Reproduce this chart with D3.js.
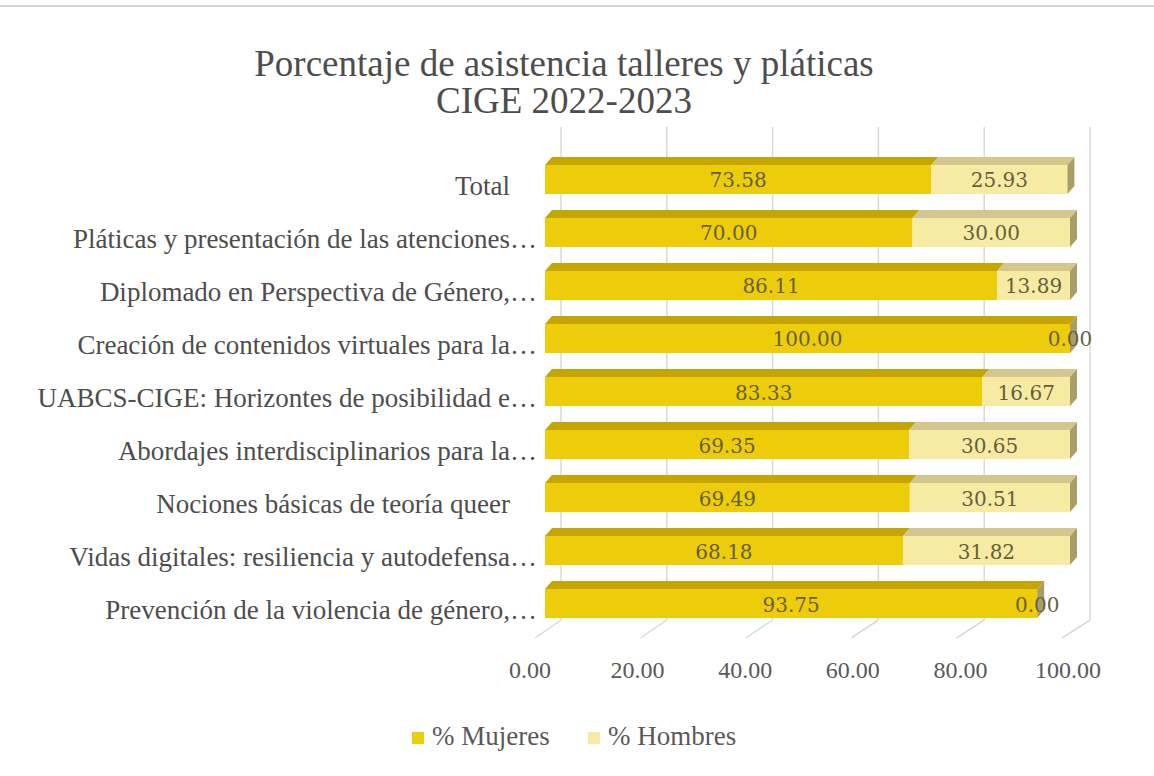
<!DOCTYPE html>
<html>
<head>
<meta charset="utf-8">
<script src="https://cdn.jsdelivr.net/npm/d3@7"></script>
<style>
  html, body { margin: 0; padding: 0; background: #fff; }
  svg { display: block; }
</style>
</head>
<body>
<div id="chart"></div>
<script>
// Datos (de arriba hacia abajo)
const categories = [
  'Total    ',
  'Pláticas y presentación de las atenciones…',
  'Diplomado en Perspectiva de Género,…',
  'Creación de contenidos virtuales para la…',
  'UABCS-CIGE: Horizontes de posibilidad e…',
  'Abordajes interdisciplinarios para la…',
  'Nociones básicas de teoría queer    ',
  'Vidas digitales: resiliencia y autodefensa…',
  'Prevención de la violencia de género,…'
];
const mujeres = [73.58, 70.00, 86.11, 100.00, 83.33, 69.35, 69.49, 68.18, 93.75];
const hombres = [25.93, 30.00, 13.89, 0.00, 16.67, 30.65, 30.51, 31.82, 0.00];
const ticks = [0, 20, 40, 60, 80, 100];
const seriesNames = ['% Mujeres', '% Hombres'];

const width = 1154, height = 776;

const colors = {
  mujeres: { front: '#EDCD0A', top: '#C4A502', side: '#A89A3A' },
  hombres: { front: '#F7EBA4', top: '#D4C78E', side: '#A99E68' }
};
const textColor = '#4d4d4d';

const svg = d3.select('#chart').append('svg')
  .attr('width', width)
  .attr('height', height);

// borde superior
svg.append('line')
  .attr('x1', 0).attr('x2', width)
  .attr('y1', 6).attr('y2', 6)
  .attr('stroke', '#d4d4d4').attr('stroke-width', 2);

// Titulo
const title = svg.append('text')
  .attr('text-anchor', 'middle')
  .style('font-family', '"Liberation Serif", "Times New Roman", serif')
  .style('font-size', '37px')
  .style('fill', textColor);
title.append('tspan').attr('x', 564).attr('y', 76).text('Porcentaje de asistencia talleres y pláticas');
title.append('tspan').attr('x', 564).attr('y', 113).text('CIGE 2022-2023');

// Escalas: frente de la barra, pared del fondo, borde frontal del piso, etiquetas
const x = d3.scaleLinear().domain([0, 100]).range([545, 1070]);
const xWall = d3.scaleLinear().domain([0, 100]).range([561, 1090]);
const xFloor = d3.scaleLinear().domain([0, 100]).range([535, 1062]);
const xLabel = d3.scaleLinear().domain([0, 100]).range([530, 1068]);

const y = d3.scaleBand()
  .domain(categories)
  .range([165, 618])
  .paddingInner(0.453)
  .paddingOuter(0);

const wallTop = 127, floorBack = 620, floorFront = 638;
const depth = { dx: 7, dy: -8 };

// Lineas de cuadricula (pared + piso)
const grid = svg.append('g').attr('class', 'grid');
grid.selectAll('.wall-line')
  .data(ticks)
  .enter().append('line')
  .attr('x1', d => xWall(d)).attr('x2', d => xWall(d))
  .attr('y1', wallTop).attr('y2', floorBack)
  .attr('stroke', '#d9d9d9').attr('stroke-width', 1.5);
grid.selectAll('.floor-line')
  .data(ticks)
  .enter().append('line')
  .attr('x1', d => xFloor(d)).attr('x2', d => xWall(d))
  .attr('y1', floorFront).attr('y2', floorBack)
  .attr('stroke', '#d9d9d9').attr('stroke-width', 1.5);

// Barras 3D apiladas
const rows = categories.map((c, i) => ({
  name: c,
  segs: [
    { key: 'mujeres', start: 0, value: mujeres[i] },
    { key: 'hombres', start: mujeres[i], value: hombres[i] }
  ]
}));

const bars = svg.append('g').attr('class', 'bars');
rows.forEach(r => {
  const y0 = y(r.name), h = y.bandwidth();
  const g = bars.append('g');

  r.segs.forEach(s => {
    const a = x(s.start), b = x(s.start + s.value);
    // cara frontal
    g.append('rect')
      .attr('x', a).attr('y', y0)
      .attr('width', b - a).attr('height', h)
      .attr('fill', colors[s.key].front);
    // cara superior
    g.append('path')
      .attr('d', `M${a},${y0}L${b},${y0}L${b + depth.dx},${y0 + depth.dy}L${a + depth.dx},${y0 + depth.dy}Z`)
      .attr('fill', colors[s.key].top);
  });

  // cara lateral al final de la barra
  const end = x(r.segs[1].start + r.segs[1].value);
  g.append('path')
    .attr('d', `M${end},${y0}L${end + depth.dx},${y0 + depth.dy}L${end + depth.dx},${y0 + h + depth.dy}L${end},${y0 + h}Z`)
    .attr('fill', colors.hombres.side);

  // etiquetas de datos
  r.segs.forEach(s => {
    g.append('text')
      .attr('x', x(s.start + s.value / 2))
      .attr('y', y0 + h / 2 + 8)
      .attr('text-anchor', 'middle')
      .style('font-family', '"DejaVu Serif", "Liberation Serif", serif')
      .style('font-size', '20px')
      .style('fill', '#665f3c')
      .text(s.value.toFixed(2));
  });
});

// Etiquetas de categorias (se conservan los espacios finales)
svg.append('g').selectAll('text')
  .data(categories)
  .enter().append('text')
  .attr('x', 537)
  .attr('y', d => y(d) + y.bandwidth() + 1)
  .attr('text-anchor', 'end')
  .style('white-space', 'pre')
  .style('font-family', '"Liberation Serif", "Times New Roman", serif')
  .style('font-size', '27px')
  .style('fill', textColor)
  .text(d => d);

// Etiquetas del eje
svg.append('g').selectAll('text')
  .data(ticks)
  .enter().append('text')
  .attr('x', d => xLabel(d))
  .attr('y', 678)
  .attr('text-anchor', 'middle')
  .style('font-family', '"Liberation Serif", "Times New Roman", serif')
  .style('font-size', '24px')
  .style('fill', '#595959')
  .text(d => d.toFixed(2));

// Leyenda
const legendX = [412, 588];
const legend = svg.append('g').attr('class', 'legend');
seriesNames.forEach((name, i) => {
  const row = legend.append('g').attr('transform', `translate(${legendX[i]}, 732)`);
  row.append('rect')
    .attr('width', 12).attr('height', 12)
    .attr('fill', i === 0 ? colors.mujeres.front : colors.hombres.front);
  row.append('text')
    .attr('x', 20).attr('y', 13)
    .style('font-family', '"Liberation Serif", "Times New Roman", serif')
    .style('font-size', '27px')
    .style('fill', '#595959')
    .text(name);
});
</script>
</body>
</html>
